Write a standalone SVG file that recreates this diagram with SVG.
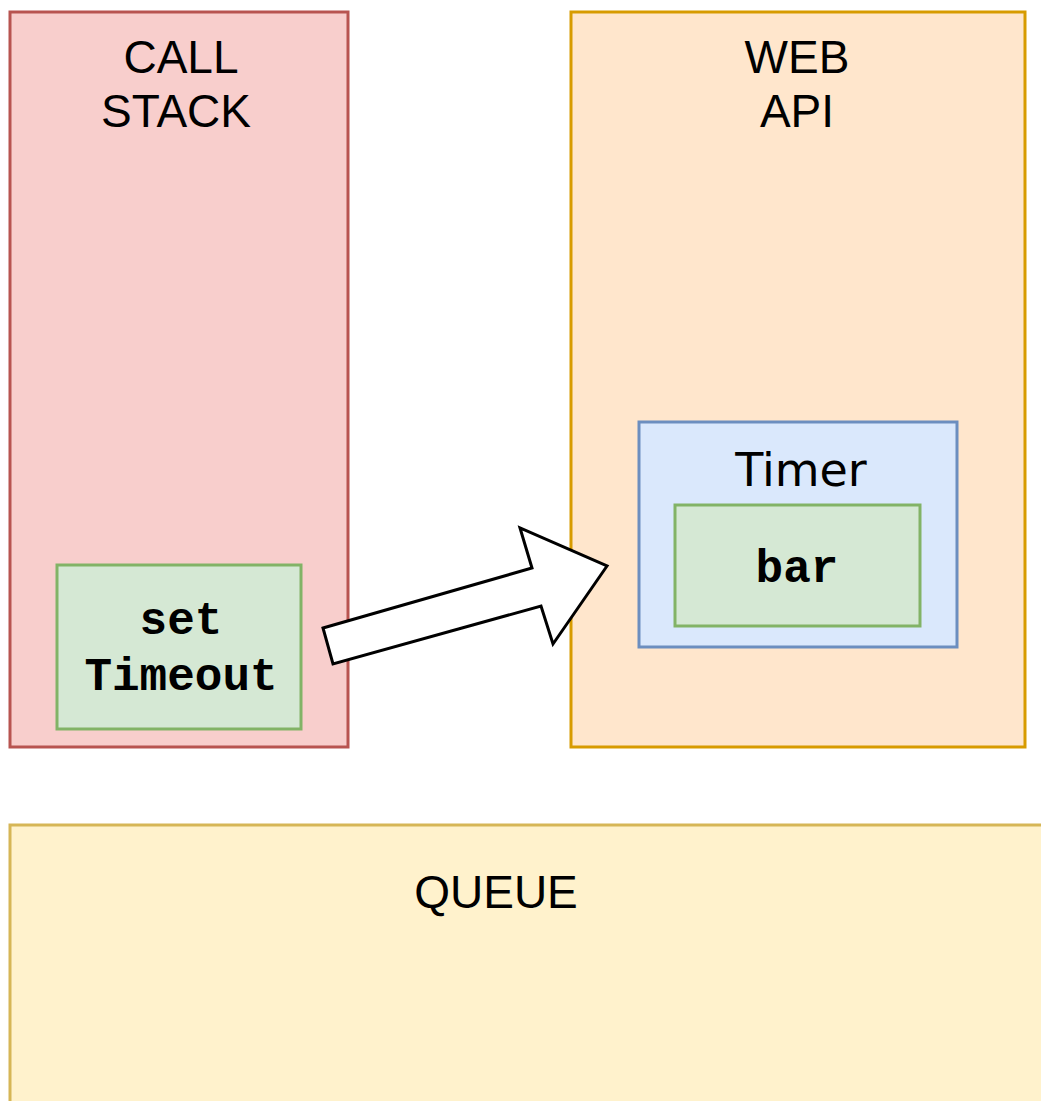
<svg xmlns="http://www.w3.org/2000/svg" width="1041" height="1101" viewBox="0 0 1041 1101">
<style>
.lbl{font-family:"Liberation Sans",Arial,sans-serif;font-size:46px;fill:#000;text-anchor:middle}
.code{font-family:"Liberation Mono","Courier New",monospace;font-weight:bold;font-size:46px;fill:#000;text-anchor:middle}
.timer{font-family:"DejaVu Sans",Verdana,sans-serif;font-size:46px;fill:#000;text-anchor:middle}
.green{fill:#d5e8d4;stroke:#82b366;stroke-width:3}
</style>
<rect width="1041" height="1101" fill="#ffffff"/>
<g id="callstack">
<rect x="10" y="12" width="338" height="735" fill="#f8cecc" stroke="#b85450" stroke-width="3"/>
<text class="lbl" x="181" y="73">CALL</text>
<text class="lbl" x="176" y="127">STACK</text>
</g>
<g id="webapi">
<rect x="571" y="12" width="454" height="735" fill="#ffe6cc" stroke="#d79b00" stroke-width="3"/>
<text class="lbl" x="797" y="73">WEB</text>
<text class="lbl" x="797" y="127">API</text>
</g>
<g id="settimeout">
<rect class="green" x="57" y="565" width="244" height="164"/>
<text class="code" x="181" y="634">set</text>
<text class="code" x="181" y="690">Timeout</text>
</g>
<g id="timer">
<rect x="639" y="422" width="318" height="225" fill="#dae8fc" stroke="#6c8ebf" stroke-width="3"/>
<text class="timer" x="801" y="486">Timer</text>
</g>
<g id="bar">
<rect class="green" x="675" y="505" width="245" height="121"/>
<text class="code" x="797" y="582">bar</text>
</g>
<g id="queue">
<rect x="10" y="825" width="1040" height="290" fill="#fff2cc" stroke="#d6b656" stroke-width="3"/>
<text class="lbl" x="496" y="908">QUEUE</text>
</g>
<g id="connectors">
<polygon points="323,628 532,568 520,528 607,566 553,644 541,606 333,664" fill="#ffffff" stroke="#000000" stroke-width="3" stroke-linejoin="miter"/>
</g>
</svg>
